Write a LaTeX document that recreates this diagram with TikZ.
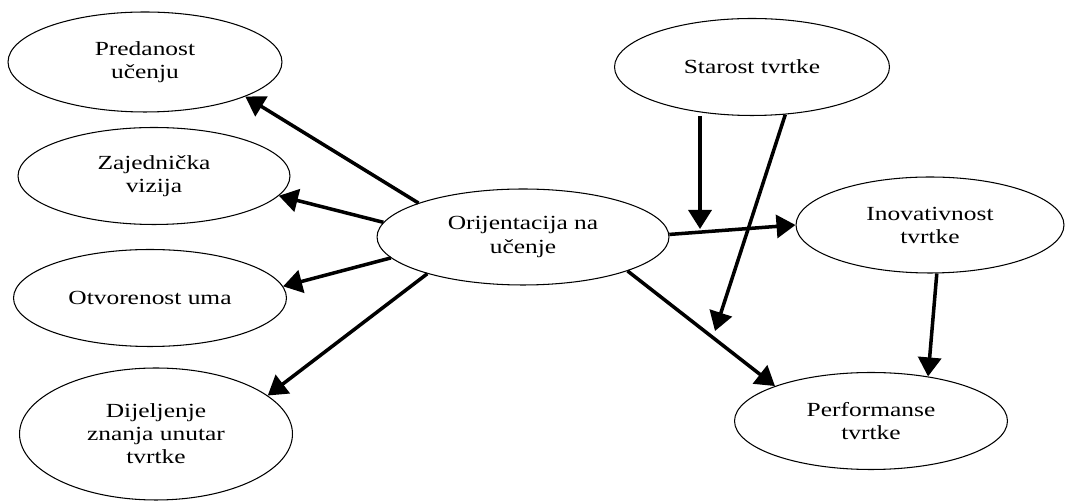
\documentclass[tikz,border=0pt]{standalone}
\usepackage{fontspec}
\setmainfont{Liberation Serif}[FakeStretch=1.27]
\usetikzlibrary{shapes.geometric, arrows.meta, positioning}
\tikzstyle{construct} = [ellipse, draw=black, line width=0.6pt, align=center, inner sep=0pt, minimum width=5.46cm, minimum height=1.94cm, font=\fontsize{11.4}{13.1}\selectfont]
\tikzstyle{arrow} = [line width=2pt, -{Triangle[length=3.8mm,width=4.6mm]}]

\begin{document}
\begin{tikzpicture}[x=0.02cm, y=0.02cm]
\useasboundingbox (0,0) rectangle (1078,503);

% Nodes
\node (pred) [construct, minimum width=5.48cm, minimum height=2cm] at (145,441) {Predanost\\učenju};
\node (zaj) [construct, minimum width=5.44cm] at (154,327) {Zajednička\\vizija};
\node (otv) [construct] at (150,205) {Otvorenost uma};
\node (dij) [construct, minimum height=2.64cm] at (156,69) {Dijeljenje\\znanja unutar\\tvrtke};
\node (ori) [construct, minimum width=5.84cm, minimum height=1.92cm] at (523,266) {Orijentacija na\\učenje};
\node (sta) [construct, minimum width=5.5cm] at (752,436) {Starost tvrtke};
\node (ino) [construct, minimum width=5.36cm, minimum height=1.92cm] at (930,278) {Inovativnost\\tvrtke};
\node (per) [construct] at (871,82) {Performanse\\tvrtke};

% Moderator ends
\coordinate (modino) at (700,274);
\coordinate (modper) at (715,172);

% Arrows
\draw [arrow] (ori.162) -- (pred.-19);
\draw [arrow] (ori.174) -- (zaj.-9);
\draw [arrow] (ori.-171) -- (otv.5);
\draw [arrow] (ori.-159) -- (dij.19);
\draw [arrow] (ori.1) -- (ino.west);
\draw [arrow] (ori.-18) -- (per.160);
\draw [arrow] (ino.-82) -- (per.38);
\draw [arrow] (sta.south -| modino) -- (modino);
\draw [arrow] (sta.-55) -- (modper);

\end{tikzpicture}
\end{document}
